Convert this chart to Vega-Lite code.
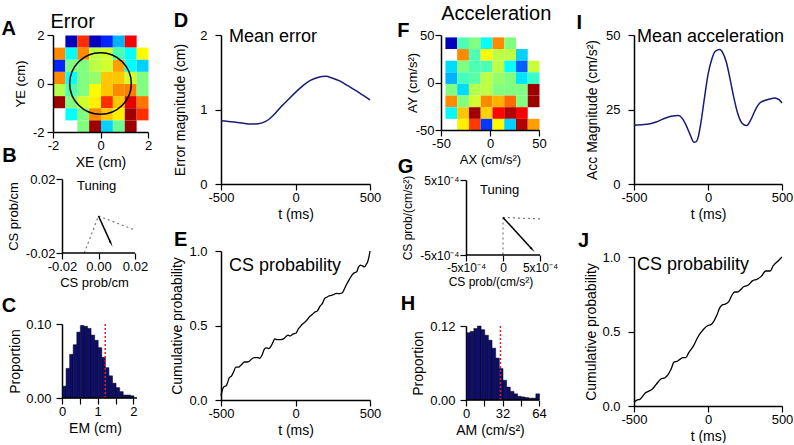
{
  "$schema": "https://vega.github.io/schema/vega-lite/v6.json",
  "padding": {"left": 1, "top": 4, "right": 0, "bottom": 0},
  "config": {
    "font": "Liberation Sans",
    "view": {"stroke": null},
    "axis": {"grid": false, "domainColor": "#000", "domainWidth": 1.5, "tickColor": "#000", "tickWidth": 1.2, "tickSize": 6, "labelColor": "#000", "labelFontSize": 13, "labelPadding": 1, "labelFlush": false, "labelOverlap": false, "titleColor": "#000", "titleFontSize": 14, "titleFontWeight": "normal", "titlePadding": 3, "labelFont": "Liberation Sans", "titleFont": "Liberation Sans"},
    "title": {"font": "Liberation Sans", "fontSize": 20, "fontWeight": "bold", "anchor": "start", "frame": "bounds", "color": "#000", "offset": 0}
  },
  "datasets": {
    "heatA": [
      {"x": -1.5, "y": 1.5, "v": 0.06}, {"x": -1, "y": 1.5, "v": 0.83}, {"x": -0.5, "y": 1.5, "v": 0.06}, {"x": 0, "y": 1.5, "v": 0.16}, {"x": 0.5, "y": 1.5, "v": 0.3}, {"x": 1, "y": 1.5, "v": 0.88},
      {"x": -2, "y": 1, "v": 0.74}, {"x": -1.5, "y": 1, "v": 0.38}, {"x": -1, "y": 1, "v": 0.74}, {"x": -0.5, "y": 1, "v": 0.56}, {"x": 0, "y": 1, "v": 0.58}, {"x": 0.5, "y": 1, "v": 0.45}, {"x": 1, "y": 1, "v": 0.38}, {"x": 1.5, "y": 1, "v": 0.63},
      {"x": -2, "y": 0.5, "v": 0.16}, {"x": -1.5, "y": 0.5, "v": 0.5}, {"x": -1, "y": 0.5, "v": 0.5}, {"x": -0.5, "y": 0.5, "v": 0.56}, {"x": 0, "y": 0.5, "v": 0.58}, {"x": 0.5, "y": 0.5, "v": 0.72}, {"x": 1, "y": 0.5, "v": 0.38}, {"x": 1.5, "y": 0.5, "v": 0.33},
      {"x": -2, "y": 0, "v": 0.74}, {"x": -1.5, "y": 0, "v": 0.38}, {"x": -1, "y": 0, "v": 0.5}, {"x": -0.5, "y": 0, "v": 0.52}, {"x": 0, "y": 0, "v": 0.68}, {"x": 0.5, "y": 0, "v": 0.68}, {"x": 1, "y": 0, "v": 0.58}, {"x": 1.5, "y": 0, "v": 0.5},
      {"x": -2, "y": -0.5, "v": 0.55}, {"x": -1.5, "y": -0.5, "v": 0.45}, {"x": -1, "y": -0.5, "v": 0.5}, {"x": -0.5, "y": -0.5, "v": 0.63}, {"x": 0, "y": -0.5, "v": 0.68}, {"x": 0.5, "y": -0.5, "v": 0.74}, {"x": 1, "y": -0.5, "v": 0.75}, {"x": 1.5, "y": -0.5, "v": 0.5},
      {"x": -2, "y": -1, "v": 0.97}, {"x": -1.5, "y": -1, "v": 0.5}, {"x": -1, "y": -1, "v": 0.58}, {"x": -0.5, "y": -1, "v": 0.64}, {"x": 0, "y": -1, "v": 0.83}, {"x": 0.5, "y": -1, "v": 0.68}, {"x": 1, "y": -1, "v": 0.9}, {"x": 1.5, "y": -1, "v": 0.76},
      {"x": -1.5, "y": -1.5, "v": 0.38}, {"x": -1, "y": -1.5, "v": 0.5}, {"x": -0.5, "y": -1.5, "v": 0.74}, {"x": 0, "y": -1.5, "v": 0.68}, {"x": 0.5, "y": -1.5, "v": 0.64}, {"x": 1, "y": -1.5, "v": 0.97}, {"x": 1.5, "y": -1.5, "v": 0.83},
      {"x": -1, "y": -2, "v": 0.5}, {"x": -0.5, "y": -2, "v": 0.97}, {"x": 0, "y": -2, "v": 0.33}, {"x": 0.5, "y": -2, "v": 0.48}, {"x": 1, "y": -2, "v": 0.97}
    ],
    "heatF": [
      {"x": -46, "y": 35.75, "v": 0.06}, {"x": -34, "y": 35.75, "v": 0.45}, {"x": -22, "y": 35.75, "v": 0.5}, {"x": -10, "y": 35.75, "v": 0.38}, {"x": 2, "y": 35.75, "v": 0.74}, {"x": 14, "y": 35.75, "v": 0.5},
      {"x": -34, "y": 23.5, "v": 0.74}, {"x": -22, "y": 23.5, "v": 0.45}, {"x": -10, "y": 23.5, "v": 0.63}, {"x": 2, "y": 23.5, "v": 0.56}, {"x": 14, "y": 23.5, "v": 0.56}, {"x": 26, "y": 23.5, "v": 0.33},
      {"x": -46, "y": 11.25, "v": 0.34}, {"x": -34, "y": 11.25, "v": 0.5}, {"x": -22, "y": 11.25, "v": 0.45}, {"x": -10, "y": 11.25, "v": 0.45}, {"x": 2, "y": 11.25, "v": 0.56}, {"x": 14, "y": 11.25, "v": 0.38}, {"x": 26, "y": 11.25, "v": 0.22}, {"x": 38, "y": 11.25, "v": 0.57},
      {"x": -46, "y": -1, "v": 0.3}, {"x": -34, "y": -1, "v": 0.44}, {"x": -22, "y": -1, "v": 0.46}, {"x": -10, "y": -1, "v": 0.56}, {"x": 2, "y": -1, "v": 0.52}, {"x": 14, "y": -1, "v": 0.5}, {"x": 26, "y": -1, "v": 0.35}, {"x": 38, "y": -1, "v": 0.43},
      {"x": -46, "y": -13.25, "v": 0.5}, {"x": -34, "y": -13.25, "v": 0.34}, {"x": -22, "y": -13.25, "v": 0.55}, {"x": -10, "y": -13.25, "v": 0.56}, {"x": 2, "y": -13.25, "v": 0.5}, {"x": 14, "y": -13.25, "v": 0.5}, {"x": 26, "y": -13.25, "v": 0.5}, {"x": 38, "y": -13.25, "v": 0.97},
      {"x": -46, "y": -25.5, "v": 0.74}, {"x": -34, "y": -25.5, "v": 0.5}, {"x": -22, "y": -25.5, "v": 0.58}, {"x": -10, "y": -25.5, "v": 0.74}, {"x": 2, "y": -25.5, "v": 0.7}, {"x": 14, "y": -25.5, "v": 0.77}, {"x": 26, "y": -25.5, "v": 0.5}, {"x": 38, "y": -25.5, "v": 0.97},
      {"x": -46, "y": -37.75, "v": 0.37}, {"x": -34, "y": -37.75, "v": 0.68}, {"x": -22, "y": -37.75, "v": 0.97}, {"x": -10, "y": -37.75, "v": 0.67}, {"x": 2, "y": -37.75, "v": 0.87}, {"x": 14, "y": -37.75, "v": 0.95}, {"x": 26, "y": -37.75, "v": 0.88},
      {"x": -34, "y": -50, "v": 0.64}, {"x": -22, "y": -50, "v": 0.82}, {"x": -10, "y": -50, "v": 0.18}, {"x": 2, "y": -50, "v": 0.63}, {"x": 14, "y": -50, "v": 0.33}, {"x": 26, "y": -50, "v": 0.95}, {"x": 38, "y": -50, "v": 0.72}
    ],
    "histC": [
      {"em": 0, "p": 0.016}, {"em": 0.1, "p": 0.04}, {"em": 0.2, "p": 0.059}, {"em": 0.3, "p": 0.072}, {"em": 0.4, "p": 0.089}, {"em": 0.5, "p": 0.098}, {"em": 0.6, "p": 0.097}, {"em": 0.7, "p": 0.094}, {"em": 0.8, "p": 0.085}, {"em": 0.9, "p": 0.078},
      {"em": 1, "p": 0.068}, {"em": 1.1, "p": 0.055}, {"em": 1.2, "p": 0.041}, {"em": 1.3, "p": 0.03}, {"em": 1.4, "p": 0.02}, {"em": 1.5, "p": 0.014}, {"em": 1.6, "p": 0.0086}, {"em": 1.7, "p": 0.004}, {"em": 1.8, "p": 0.004}, {"em": 1.9, "p": 0.003}
    ],
    "histH": [
      {"am": 0, "p": 0.109}, {"am": 3.2, "p": 0.111}, {"am": 6.4, "p": 0.116}, {"am": 9.6, "p": 0.12}, {"am": 12.8, "p": 0.114}, {"am": 16, "p": 0.105}, {"am": 19.2, "p": 0.097}, {"am": 22.4, "p": 0.084}, {"am": 25.6, "p": 0.068}, {"am": 28.8, "p": 0.051},
      {"am": 32, "p": 0.032}, {"am": 35.2, "p": 0.021}, {"am": 38.4, "p": 0.014}, {"am": 41.6, "p": 0.01}, {"am": 44.8, "p": 0.006}, {"am": 48, "p": 0.005}, {"am": 51.2, "p": 0.004}, {"am": 54.4, "p": 0.003}, {"am": 57.6, "p": 0.003}, {"am": 60.8, "p": 0.01}
    ],
    "tuneB": [
      {"s": "a", "x": 0, "y": 0}, {"s": "a", "x": -0.0078, "y": -0.02},
      {"s": "b", "x": 0, "y": 0}, {"s": "b", "x": 0.02, "y": -0.0076}
    ],
    "arrowB": [{"x": 0, "y": 0}, {"x": 0.0067, "y": -0.0145}],
    "tuneG": [
      {"s": "a", "x": 0, "y": 0}, {"s": "a", "x": 0, "y": -0.0005},
      {"s": "b", "x": 0, "y": 0}, {"s": "b", "x": 0.0005, "y": -0.000018}
    ],
    "arrowG": [{"x": 0, "y": 0}, {"x": 0.00039, "y": -0.00042}],
    "meanErr": [
      {"t": -500, "e": 0.85}, {"t": -450, "e": 0.84}, {"t": -400, "e": 0.83}, {"t": -350, "e": 0.815}, {"t": -300, "e": 0.805}, {"t": -250, "e": 0.81}, {"t": -200, "e": 0.84}, {"t": -150, "e": 0.92}, {"t": -100, "e": 1.03}, {"t": -50, "e": 1.13},
      {"t": 0, "e": 1.23}, {"t": 50, "e": 1.32}, {"t": 100, "e": 1.39}, {"t": 150, "e": 1.43}, {"t": 200, "e": 1.445}, {"t": 250, "e": 1.42}, {"t": 300, "e": 1.38}, {"t": 350, "e": 1.32}, {"t": 400, "e": 1.26}, {"t": 450, "e": 1.195}, {"t": 500, "e": 1.13}
    ],
    "cumE": [
      {"t": -500, "c": 0.03}, {"t": -490, "c": 0.07}, {"t": -478, "c": 0.09}, {"t": -465, "c": 0.095}, {"t": -455, "c": 0.12}, {"t": -444, "c": 0.15}, {"t": -430, "c": 0.16}, {"t": -415, "c": 0.19}, {"t": -400, "c": 0.22}, {"t": -385, "c": 0.22},
      {"t": -370, "c": 0.23}, {"t": -355, "c": 0.245}, {"t": -343, "c": 0.255}, {"t": -325, "c": 0.255}, {"t": -310, "c": 0.26}, {"t": -295, "c": 0.275}, {"t": -276, "c": 0.285}, {"t": -255, "c": 0.285}, {"t": -240, "c": 0.28}, {"t": -225, "c": 0.3},
      {"t": -210, "c": 0.34}, {"t": -198, "c": 0.35}, {"t": -180, "c": 0.345}, {"t": -165, "c": 0.36}, {"t": -150, "c": 0.39}, {"t": -140, "c": 0.41}, {"t": -120, "c": 0.405}, {"t": -100, "c": 0.405}, {"t": -80, "c": 0.41}, {"t": -65, "c": 0.425},
      {"t": -50, "c": 0.435}, {"t": -35, "c": 0.43}, {"t": -20, "c": 0.44}, {"t": -8, "c": 0.445}, {"t": 5, "c": 0.45}, {"t": 15, "c": 0.47}, {"t": 30, "c": 0.49}, {"t": 47, "c": 0.51}, {"t": 60, "c": 0.52}, {"t": 80, "c": 0.54},
      {"t": 95, "c": 0.56}, {"t": 114, "c": 0.575}, {"t": 130, "c": 0.59}, {"t": 148, "c": 0.6}, {"t": 165, "c": 0.63}, {"t": 182, "c": 0.65}, {"t": 195, "c": 0.68}, {"t": 210, "c": 0.69}, {"t": 230, "c": 0.7}, {"t": 250, "c": 0.705},
      {"t": 275, "c": 0.715}, {"t": 295, "c": 0.714}, {"t": 315, "c": 0.72}, {"t": 330, "c": 0.75}, {"t": 345, "c": 0.78}, {"t": 362, "c": 0.81}, {"t": 380, "c": 0.84}, {"t": 396, "c": 0.855}, {"t": 410, "c": 0.86}, {"t": 422, "c": 0.89},
      {"t": 435, "c": 0.905}, {"t": 450, "c": 0.9}, {"t": 463, "c": 0.893}, {"t": 475, "c": 0.91}, {"t": 485, "c": 0.93}, {"t": 493, "c": 0.96}, {"t": 500, "c": 1.0}
    ],
    "meanAcc": [
      {"t": -500, "a": 19.7}, {"t": -450, "a": 19.9}, {"t": -400, "a": 20.1}, {"t": -350, "a": 20.8}, {"t": -300, "a": 21.9}, {"t": -250, "a": 22.7}, {"t": -200, "a": 23.0}, {"t": -175, "a": 22.1}, {"t": -150, "a": 19.9}, {"t": -120, "a": 16.5},
      {"t": -95, "a": 14.0}, {"t": -80, "a": 14.2}, {"t": -65, "a": 16.0}, {"t": -50, "a": 19.9}, {"t": -25, "a": 28.5}, {"t": 0, "a": 36.7}, {"t": 25, "a": 41.8}, {"t": 50, "a": 44.6}, {"t": 80, "a": 45.1}, {"t": 100, "a": 44.0},
      {"t": 125, "a": 40.7}, {"t": 150, "a": 35.0}, {"t": 175, "a": 28.9}, {"t": 200, "a": 23.8}, {"t": 230, "a": 20.4}, {"t": 260, "a": 19.6}, {"t": 290, "a": 21.6}, {"t": 320, "a": 24.9}, {"t": 350, "a": 27.2}, {"t": 400, "a": 28.3},
      {"t": 450, "a": 28.9}, {"t": 480, "a": 28.3}, {"t": 500, "a": 27.2}
    ],
    "cumJ": [
      {"t": -500, "c": 0.027}, {"t": -480, "c": 0.04}, {"t": -460, "c": 0.045}, {"t": -440, "c": 0.067}, {"t": -420, "c": 0.09}, {"t": -400, "c": 0.1}, {"t": -380, "c": 0.11}, {"t": -350, "c": 0.145}, {"t": -320, "c": 0.18}, {"t": -290, "c": 0.19},
      {"t": -270, "c": 0.21}, {"t": -250, "c": 0.246}, {"t": -230, "c": 0.295}, {"t": -210, "c": 0.3}, {"t": -190, "c": 0.313}, {"t": -170, "c": 0.324}, {"t": -150, "c": 0.324}, {"t": -130, "c": 0.358}, {"t": -100, "c": 0.4}, {"t": -70, "c": 0.46},
      {"t": -50, "c": 0.49}, {"t": -30, "c": 0.515}, {"t": 0, "c": 0.54}, {"t": 20, "c": 0.546}, {"t": 40, "c": 0.57}, {"t": 60, "c": 0.61}, {"t": 80, "c": 0.66}, {"t": 100, "c": 0.68}, {"t": 120, "c": 0.685}, {"t": 140, "c": 0.7},
      {"t": 160, "c": 0.74}, {"t": 180, "c": 0.765}, {"t": 200, "c": 0.765}, {"t": 220, "c": 0.78}, {"t": 240, "c": 0.8}, {"t": 270, "c": 0.81}, {"t": 300, "c": 0.84}, {"t": 330, "c": 0.85}, {"t": 360, "c": 0.87}, {"t": 390, "c": 0.906},
      {"t": 420, "c": 0.906}, {"t": 440, "c": 0.94}, {"t": 470, "c": 0.97}, {"t": 500, "c": 1.0}
    ]
  },
  "spacing": 16,
  "hconcat": [
    {
      "spacing": 18,
      "hconcat": [
        {
          "title": {"text": "Error", "fontWeight": "normal", "fontSize": 20, "dx": 49, "offset": -13},
          "spacing": -23,
          "vconcat": [
            {
              "width": 95, "height": 97,
              "title": {"text": "A", "dx": -13, "offset": -10},
              "layer": [
                {
                  "data": {"name": "heatA"},
                  "mark": {"type": "rect"},
                  "encoding": {
                    "x": {"field": "x", "type": "quantitative", "bin": {"binned": true, "step": 0.5}, "scale": {"domain": [-2, 2], "nice": false}, "axis": {"title": "XE (cm)", "values": [-2, 0, 2], "labelExpr": "'' + datum.value"}},
                    "y": {"field": "y", "type": "quantitative", "bin": {"binned": true, "step": 0.5}, "scale": {"domain": [-2, 2], "nice": false}, "axis": {"title": "YE (cm)", "titleFontSize": 13, "labelPadding": 3, "titlePadding": 5, "values": [-2, 0, 2], "labelExpr": "'' + datum.value"}},
                    "color": {"field": "v", "type": "quantitative", "legend": null, "scale": {"domain": [0, 0.125, 0.375, 0.625, 0.875, 1], "range": ["#00007f", "#0000ff", "#00ffff", "#ffff00", "#ff0000", "#7f0000"], "interpolate": "rgb"}}
                  }
                },
                {
                  "data": {"values": [{}]},
                  "mark": {"type": "point", "shape": "circle", "size": 3800, "filled": false, "stroke": "#000", "strokeWidth": 1.5, "opacity": 1},
                  "encoding": {"x": {"datum": 0}, "y": {"datum": 0}}
                }
              ]
            },
            {
              "spacing": 7,
              "vconcat": [
                {
                  "width": 82, "height": 74,
                  "title": {"text": "B", "dx": -5, "offset": 7},
                  "layer": [
                    {
                      "data": {"name": "tuneB"},
                      "mark": {"type": "line", "stroke": "#777", "strokeDash": [2, 3], "strokeWidth": 1.2},
                      "encoding": {
                        "x": {"field": "x", "type": "quantitative", "scale": {"domain": [-0.024932, 0.02], "nice": false}, "axis": {"title": "CS prob/cm", "titleFontSize": 13, "domain": false, "values": [-0.02, -0.01, 0, 0.01, 0.02], "labelExpr": "abs(datum.value) < 0.000001 ? '0.00' : datum.value > 0.015 ? '0.02' : datum.value < -0.015 ? '-0.02' : ''"}},
                        "y": {"field": "y", "type": "quantitative", "scale": {"domain": [-0.02, 0.02], "nice": false}, "axis": {"title": "CS prob/cm", "titleFontSize": 13, "offset": -9, "labelPadding": 1, "titlePadding": 5, "values": [-0.02, -0.01, 0, 0.01, 0.02], "labelExpr": "abs(datum.value) < 0.000001 ? '0.00' : datum.value > 0.015 ? '0.02' : datum.value < -0.015 ? '-0.02' : ''"}},
                        "detail": {"field": "s"}
                      }
                    },
                    {
                      "data": {"name": "arrowB"},
                      "mark": {"type": "line", "stroke": "#000", "strokeWidth": 1.5},
                      "encoding": {"x": {"field": "x", "type": "quantitative"}, "y": {"field": "y", "type": "quantitative"}}
                    },
                    {
                      "data": {"values": [{}]},
                      "mark": {"type": "point", "shape": "wedge", "angle": 155, "size": 60, "filled": true, "color": "#000", "opacity": 1},
                      "encoding": {"x": {"datum": 0.0067}, "y": {"datum": -0.0145}}
                    },
                    {
                      "data": {"values": [{}]},
                      "mark": {"type": "text", "text": "Tuning", "align": "left", "baseline": "middle", "fontSize": 13, "color": "#000"},
                      "encoding": {"x": {"datum": -0.0118}, "y": {"datum": 0.016}}
                    },
                    {
                      "data": {"values": [{}]},
                      "mark": {"type": "rule", "stroke": "#000", "strokeWidth": 1.5},
                      "encoding": {"x": {"datum": -0.02}, "x2": {"datum": 0.02}, "y": {"datum": -0.02}}
                    }
                  ]
                },
                {
                  "width": 84, "height": 74,
                  "title": {"text": "C", "dx": -7, "offset": 2},
                  "layer": [
                    {
                      "data": {"name": "histC"},
                      "mark": {"type": "bar", "binSpacing": 0, "fill": "#0d0d70", "stroke": "#000", "strokeWidth": 0.5},
                      "encoding": {
                        "x": {"field": "em", "type": "quantitative", "bin": {"binned": true, "step": 0.1}, "scale": {"domain": [-0.252, 2.1], "nice": false}, "axis": {"title": "EM (cm)", "domain": false, "values": [0, 0.5, 1, 1.5, 2], "labelExpr": "datum.value % 1 === 0 ? '' + datum.value : ''"}},
                        "y": {"field": "p", "type": "quantitative", "scale": {"domain": [0, 0.1], "nice": false}, "axis": {"title": "Proportion", "offset": -9, "labelPadding": 5, "titlePadding": 3, "values": [0, 0.05, 0.1], "labelExpr": "format(datum.value, '.2f')"}}
                      }
                    },
                    {
                      "data": {"values": [{}]},
                      "mark": {"type": "rule", "stroke": "#e02020", "strokeDash": [2, 2], "strokeWidth": 1.5},
                      "encoding": {"x": {"datum": 1.21}, "y": {"datum": 0}, "y2": {"datum": 0.1}}
                    },
                    {
                      "data": {"values": [{}]},
                      "mark": {"type": "rule", "stroke": "#000", "strokeWidth": 1.5},
                      "encoding": {"x": {"datum": 0}, "x2": {"datum": 2.1}, "y": {"datum": 0}}
                    }
                  ]
                }
              ]
            }
          ]
        },
        {
          "spacing": 9,
          "vconcat": [
            {
              "width": 149, "height": 149,
              "title": {"text": "D", "offset": -3},
              "layer": [
                {
                  "data": {"name": "meanErr"},
                  "mark": {"type": "line", "stroke": "#1a1a75", "strokeWidth": 1.5, "interpolate": "monotone"},
                  "encoding": {
                    "x": {"field": "t", "type": "quantitative", "scale": {"domain": [-500, 500], "nice": false}, "axis": {"title": "t (ms)", "values": [-500, -250, 0, 250, 500], "labelExpr": "datum.value % 500 === 0 ? '' + datum.value : ''"}},
                    "y": {"field": "e", "type": "quantitative", "scale": {"domain": [0, 2], "nice": false}, "axis": {"title": "Error magnitude (cm)", "labelPadding": 8, "titlePadding": 12, "values": [0, 0.5, 1, 1.5, 2], "labelExpr": "datum.value % 1 === 0 ? '' + datum.value : ''"}}
                  }
                },
                {
                  "data": {"values": [{}]},
                  "mark": {"type": "text", "text": "Mean error", "align": "left", "baseline": "middle", "fontSize": 18, "color": "#000"},
                  "encoding": {"x": {"datum": -446}, "y": {"datum": 1.97}}
                }
              ]
            },
            {
              "width": 149, "height": 149,
              "title": {"text": "E", "dx": 3, "offset": -5},
              "layer": [
                {
                  "data": {"name": "cumE"},
                  "mark": {"type": "line", "stroke": "#000", "strokeWidth": 1.3, "interpolate": "monotone"},
                  "encoding": {
                    "x": {"field": "t", "type": "quantitative", "scale": {"domain": [-500, 500], "nice": false}, "axis": {"title": "t (ms)", "values": [-500, -250, 0, 250, 500], "labelExpr": "datum.value % 500 === 0 ? '' + datum.value : ''"}},
                    "y": {"field": "c", "type": "quantitative", "scale": {"domain": [0, 1], "nice": false}, "axis": {"title": "Cumulative probability", "labelPadding": 8, "titlePadding": 4, "values": [0, 0.25, 0.5, 0.75, 1], "labelExpr": "datum.value === 0 ? '0.0' : datum.value === 0.5 ? '0.5' : datum.value === 1 ? '1.0' : ''"}}
                  }
                },
                {
                  "data": {"values": [{}]},
                  "mark": {"type": "text", "text": "CS probability", "align": "left", "baseline": "middle", "fontSize": 18, "color": "#000"},
                  "encoding": {"x": {"datum": -446}, "y": {"datum": 0.9}}
                }
              ]
            }
          ]
        }
      ]
    },
    {
      "spacing": 18,
      "hconcat": [
        {
          "title": {"text": "Acceleration", "fontWeight": "normal", "fontSize": 20, "dx": 44, "offset": -3},
          "spacing": -9,
          "vconcat": [
            {
              "width": 98, "height": 95,
              "title": {"text": "F", "dx": -9, "offset": -12},
              "layer": [
                {
                  "data": {"name": "heatF"},
                  "mark": {"type": "rect"},
                  "encoding": {
                    "x": {"field": "x", "type": "quantitative", "bin": {"binned": true, "step": 12}, "scale": {"domain": [-50, 50], "nice": false}, "axis": {"title": "AX (cm/s²)", "titleFontSize": 13, "values": [-50, 0, 50], "labelExpr": "'' + datum.value"}},
                    "y": {"field": "y", "type": "quantitative", "bin": {"binned": true, "step": 12.25}, "scale": {"domain": [-50, 50], "nice": false}, "axis": {"title": "AY (cm/s²)", "titleFontSize": 13, "labelPadding": 1, "titlePadding": -4, "values": [-50, 0, 50], "labelExpr": "'' + datum.value"}},
                    "color": {"field": "v", "type": "quantitative", "legend": null, "scale": {"domain": [0, 0.125, 0.375, 0.625, 0.875, 1], "range": ["#00007f", "#0000ff", "#00ffff", "#ffff00", "#ff0000", "#7f0000"], "interpolate": "rgb"}}
                  }
                }
              ]
            },
            {
              "spacing": 7,
              "vconcat": [
                {
                  "width": 99, "height": 75,
                  "title": {"text": "G", "dx": -4, "offset": -3},
                  "layer": [
                    {
                      "data": {"name": "tuneG"},
                      "mark": {"type": "line", "stroke": "#777", "strokeDash": [2, 3], "strokeWidth": 1.2},
                      "encoding": {
                        "x": {"field": "x", "type": "quantitative", "scale": {"domain": [-0.0008378, 0.0005], "nice": false}, "axis": {"title": "CS prob/(cm/s²)", "titleFontSize": 12, "labelFontSize": 12, "domain": false, "values": [-0.0005, -0.00025, 0, 0.00025, 0.0005], "labelExpr": "datum.value > 0.0004 ? '5x10⁻⁴' : datum.value < -0.0004 ? '-5x10⁻⁴' : abs(datum.value) < 0.00000001 ? '0' : ''"}},
                        "y": {"field": "y", "type": "quantitative", "scale": {"domain": [-0.0005, 0.0005], "nice": false}, "axis": {"title": "CS prob/(cm/s²)", "titleFontSize": 12, "labelFontSize": 12, "offset": -25, "labelPadding": 1, "titlePadding": 5, "values": [-0.0005, -0.00025, 0, 0.00025, 0.0005], "labelExpr": "datum.value > 0.0004 ? '5x10⁻⁴' : datum.value < -0.0004 ? '-5x10⁻⁴' : abs(datum.value) < 0.00000001 ? '0' : ''"}},
                        "detail": {"field": "s"}
                      }
                    },
                    {
                      "data": {"name": "arrowG"},
                      "mark": {"type": "line", "stroke": "#000", "strokeWidth": 1.5},
                      "encoding": {"x": {"field": "x", "type": "quantitative"}, "y": {"field": "y", "type": "quantitative"}}
                    },
                    {
                      "data": {"values": [{}]},
                      "mark": {"type": "point", "shape": "wedge", "angle": 138, "size": 60, "filled": true, "color": "#000", "opacity": 1},
                      "encoding": {"x": {"datum": 0.00039}, "y": {"datum": -0.00042}}
                    },
                    {
                      "data": {"values": [{}]},
                      "mark": {"type": "text", "text": "Tuning", "align": "left", "baseline": "middle", "fontSize": 13, "color": "#000"},
                      "encoding": {"x": {"datum": -0.00031}, "y": {"datum": 0.00037}}
                    },
                    {
                      "data": {"values": [{}]},
                      "mark": {"type": "rule", "stroke": "#000", "strokeWidth": 1.5},
                      "encoding": {"x": {"datum": -0.0005}, "x2": {"datum": 0.0005}, "y": {"datum": -0.0005}}
                    }
                  ]
                },
                {
                  "width": 98, "height": 74,
                  "title": {"text": "H", "dx": -11, "offset": 6},
                  "layer": [
                    {
                      "data": {"name": "histH"},
                      "mark": {"type": "bar", "binSpacing": 0, "fill": "#0d0d70", "stroke": "#000", "strokeWidth": 0.5},
                      "encoding": {
                        "x": {"field": "am", "type": "quantitative", "bin": {"binned": true, "step": 3.2}, "scale": {"domain": [-21.918, 64], "nice": false}, "axis": {"title": "AM (cm/s²)", "domain": false, "values": [0, 16, 32, 48, 64], "labelExpr": "datum.value % 32 === 0 ? '' + datum.value : ''"}},
                        "y": {"field": "p", "type": "quantitative", "scale": {"domain": [0, 0.12], "nice": false}, "axis": {"title": "Proportion", "offset": -25, "labelPadding": 5, "titlePadding": 4, "values": [0, 0.06, 0.12], "labelExpr": "format(datum.value, '.2f')"}}
                      }
                    },
                    {
                      "data": {"values": [{}]},
                      "mark": {"type": "rule", "stroke": "#e02020", "strokeDash": [2, 2], "strokeWidth": 1.5},
                      "encoding": {"x": {"datum": 30.2}, "y": {"datum": 0}, "y2": {"datum": 0.12}}
                    },
                    {
                      "data": {"values": [{}]},
                      "mark": {"type": "rule", "stroke": "#000", "strokeWidth": 1.5},
                      "encoding": {"x": {"datum": 0}, "x2": {"datum": 64}, "y": {"datum": 0}}
                    }
                  ]
                }
              ]
            }
          ]
        },
        {
          "spacing": 10,
          "vconcat": [
            {
              "width": 148, "height": 149,
              "title": {"text": "I", "dx": -9, "offset": -5},
              "layer": [
                {
                  "data": {"name": "meanAcc"},
                  "mark": {"type": "line", "stroke": "#1a1a75", "strokeWidth": 1.5, "interpolate": "monotone"},
                  "encoding": {
                    "x": {"field": "t", "type": "quantitative", "scale": {"domain": [-500, 500], "nice": false}, "axis": {"title": "t (ms)", "values": [-500, -250, 0, 250, 500], "labelExpr": "datum.value % 500 === 0 ? '' + datum.value : ''"}},
                    "y": {"field": "a", "type": "quantitative", "scale": {"domain": [0, 50], "nice": false}, "axis": {"title": "Acc Magnitude (cm/s²)", "labelPadding": 8, "titlePadding": 6, "values": [0, 12.5, 25, 37.5, 50], "labelExpr": "datum.value % 25 === 0 ? '' + datum.value : ''"}}
                  }
                },
                {
                  "data": {"values": [{}]},
                  "mark": {"type": "text", "text": "Mean acceleration", "align": "left", "baseline": "middle", "fontSize": 18, "color": "#000"},
                  "encoding": {"x": {"datum": -480}, "y": {"datum": 49.3}}
                }
              ]
            },
            {
              "width": 148, "height": 149,
              "title": {"text": "J", "dx": -7, "offset": 0},
              "layer": [
                {
                  "data": {"name": "cumJ"},
                  "mark": {"type": "line", "stroke": "#000", "strokeWidth": 1.3, "interpolate": "monotone"},
                  "encoding": {
                    "x": {"field": "t", "type": "quantitative", "scale": {"domain": [-500, 500], "nice": false}, "axis": {"title": "t (ms)", "values": [-500, -250, 0, 250, 500], "labelExpr": "datum.value % 500 === 0 ? '' + datum.value : ''"}},
                    "y": {"field": "c", "type": "quantitative", "scale": {"domain": [0, 1], "nice": false}, "axis": {"title": "Cumulative probability", "labelPadding": 8, "titlePadding": 3, "values": [0, 0.25, 0.5, 0.75, 1], "labelExpr": "datum.value === 0 ? '0.0' : datum.value === 0.5 ? '0.5' : datum.value === 1 ? '1.0' : ''"}}
                  }
                },
                {
                  "data": {"values": [{}]},
                  "mark": {"type": "text", "text": "CS probability", "align": "left", "baseline": "middle", "fontSize": 18, "color": "#000"},
                  "encoding": {"x": {"datum": -480}, "y": {"datum": 0.946}}
                }
              ]
            }
          ]
        }
      ]
    }
  ]
}
